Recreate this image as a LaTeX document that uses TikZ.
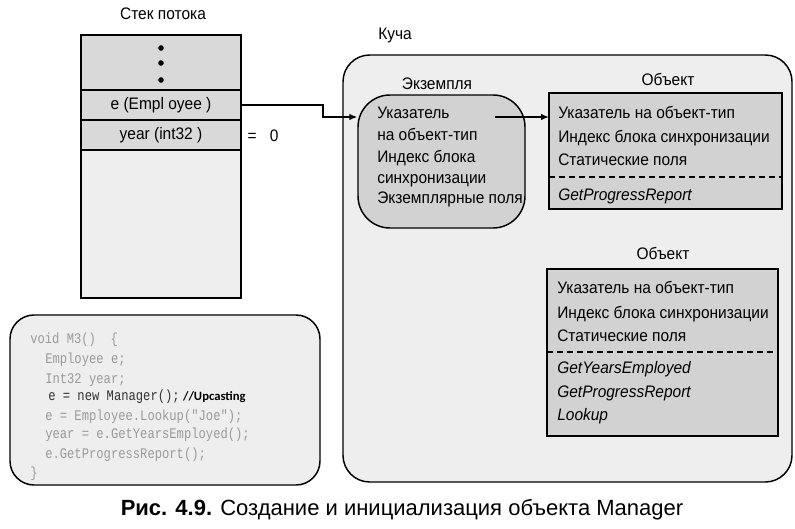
\documentclass[tikz,border=0pt]{standalone}
\usepackage{fontspec}
\setmainfont{Liberation Sans}[FakeStretch=0.93]
\newfontfamily\capfont{Liberation Sans}
\newfontfamily\codefont{Liberation Mono}[FakeStretch=0.83]
\newfontfamily\notefont{Carlito}
\usetikzlibrary{arrows.meta}
\definecolor{dgray}{HTML}{D9D9D9}
\definecolor{lgray}{HTML}{EEEEEE}
\definecolor{ogray}{HTML}{D2D2D2}
\definecolor{codegray}{HTML}{9A9A9A}
\begin{document}
\begin{tikzpicture}[x=0.75pt,y=-0.75pt,
  box/.style={draw=black,line width=1.3pt,inner sep=0pt,outer sep=0pt},
  lbl/.style={inner sep=0pt,font=\fontsize{12.5}{14}\selectfont},
  txt/.style={anchor=base west,inner sep=0pt,font=\fontsize{12.5}{14}\selectfont},
  code/.style={anchor=base west,inner sep=0pt,text=codegray,font=\codefont\fontsize{11}{13}\selectfont},
  arr/.style={line width=1.1pt,-{Latex[length=6pt,width=5pt]}}]
\useasboundingbox (0,0) rectangle (795,528);
% stack
\node[lbl] (stt) at (163,14) {Стек потока};
\node[box,fill=dgray,minimum width=120pt,minimum height=41.25pt] (dots) at (161,62.5) {};
\node[box,fill=dgray,minimum width=120pt,minimum height=22.5pt,font=\fontsize{12.5}{14}\selectfont] (erow) at (161,105) {e (Empl oyee )};
\node[box,fill=dgray,minimum width=120pt,minimum height=22.5pt,font=\fontsize{12.5}{14}\selectfont] (yrow) at (161,135) {year (int32 )};
\node[box,fill=lgray,minimum width=120pt,minimum height=111pt] (rest) at (161,224) {};
\foreach \yy/\nm in {48/d1,63/d2,80/d3}{\fill (161,\yy) circle (2.1pt);}
\node[lbl] (eqz) at (263,136) {=\hspace{10pt}0};
% heap
\node[lbl] (kucha) at (395,35) {Куча};
\node[draw=black,line width=1.1pt,fill=lgray,rounded corners=20pt,minimum width=336.75pt,minimum height=320.25pt] (heap) at (567.5,268.5) {};
% instance
\node[lbl] (instl) at (437,84) {Экземпля};
\node[draw=black,line width=1.1pt,fill=ogray,rounded corners=24pt,minimum width=125.25pt,minimum height=99.75pt] (inst) at (441.5,161.5) {};
\node[txt] (i1) at (377,118) {Указатель};
\node[txt] (i2) at (377,140) {на объект-тип};
\node[txt] (i3) at (377,162) {Индекс блока};
\node[txt] (i4) at (377,183) {синхронизации};
\node[txt] (i5) at (377,203) {Экземплярные поля};
% object 1
\node[lbl] (o1l) at (668,79) {Объект};
\node[box,fill=ogray,minimum width=174.75pt,minimum height=87pt] (obj1) at (665.5,151) {};
\node[txt] (a1) at (558,118) {Указатель на объект-тип};
\node[txt] (a2) at (558,142) {Индекс блока синхронизации};
\node[txt] (a3) at (558,165) {Статические поля};
\node[txt] (a4) at (558,200) {\itshape GetProgressReport};
\draw[line width=1.1pt,dash pattern=on 4.5pt off 3pt] (obj1.west |- 0,177) -- (obj1.east |- 0,177);
% object 2
\node[lbl] (o2l) at (663,253) {Объект};
\node[box,fill=ogray,minimum width=173.25pt,minimum height=125.25pt] (obj2) at (662.5,352.5) {};
\node[txt] (b1) at (557,293) {Указатель на объект-тип};
\node[txt] (b2) at (557,318) {Индекс блока синхронизации};
\node[txt] (b3) at (557,341) {Статические поля};
\node[txt] (b4) at (557,373) {\itshape GetYearsEmployed};
\node[txt] (b5) at (557,397) {\itshape GetProgressReport};
\node[txt] (b6) at (557,420) {\itshape Lookup};
\draw[line width=1.1pt,dash pattern=on 4.5pt off 3pt] (obj2.west |- 0,352) -- (obj2.east |- 0,352);
% arrows
\coordinate (bend1) at (323,105);
\coordinate (bend2) at (323,117);
\draw[arr] (erow.east) -- (bend1) -- (bend2) -- (inst.west |- bend2);
\coordinate (pstart) at (495,117);
\draw[arr] (pstart) -- (obj1.west |- pstart);
% code box
\node[draw=black,line width=1.1pt,fill=lgray,rounded corners=18pt,minimum width=232.5pt,minimum height=127.5pt] (codebox) at (165,400) {};
\node[code] (c1) at (30,343) {void M3()\ \ \{};
\node[code] (c2) at (45,363) {Employee e;};
\node[code] (c3) at (45,383) {Int32 year;};
\node[code,text=black!80] (c4) at (48,400) {e = new Manager();\hspace{2.5pt}{\notefont\bfseries\fontsize{9.5}{11}\selectfont\color{black}//Upcasting}};
\node[code] (c5) at (45,420) {e = Employee.Lookup("Joe");};
\node[code] (c6) at (45,438) {year = e.GetYearsEmployed();};
\node[code] (c7) at (45,458) {e.GetProgressReport();};
\node[code] (c8) at (30,477) {\}};
% caption
\node[inner sep=0pt,font=\capfont\fontsize{16.5}{18}\selectfont] (cap) at (402,510) {\textbf{Рис. 4.9.} Создание и инициализация объекта Manager};
\end{tikzpicture}
\end{document}
